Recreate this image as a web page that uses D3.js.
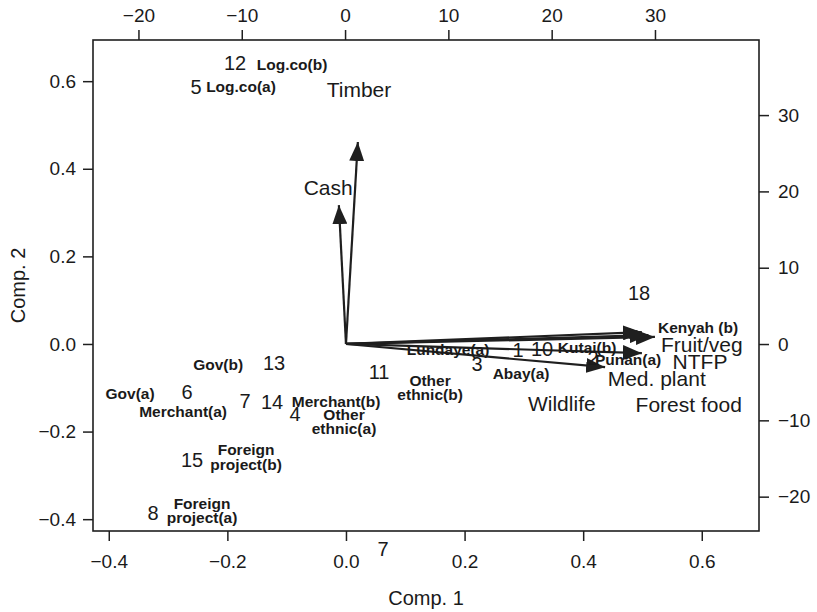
<!DOCTYPE html>
<html>
<head>
<meta charset="utf-8">
<script src="https://cdn.jsdelivr.net/npm/d3@7"></script>
<style>
  body { margin: 0; background: #fff; }
  svg text { font-family: "Liberation Sans", Arial, Helvetica, sans-serif; fill: #1a1a1a; }
</style>
</head>
<body>
<div id="vis"></div>
<script>
// observation scores (top / right axis units)
const obsIds = ["12", "5", "18", "1", "10", "2", "3", "11", "13", "6", "7", "14", "4", "15", "8", "7"];
const obsX = [-10.65, -14.42, 28.46, 16.75, 19.07, 24.0, 12.78, 3.29, -6.87, -15.3, -9.68, -7.07, -4.84, -14.81, -18.59, 3.68];
const obsY = [36.83, 33.68, 6.68, -0.79, -0.66, -1.83, -2.62, -3.67, -2.49, -6.29, -7.47, -7.6, -9.17, -15.2, -22.15, -26.87];

// group labels (same units as the scores)
const groupNames = ["Log.co(b)", "Log.co(a)", "Kenyah (b)", "Lundaye(a)", "Kutai(b)", "Punan(a)", "Abay(a)",
  "Other\nethnic(b)", "Gov(b)", "Gov(a)", "Merchant(a)", "Merchant(b)", "Other\nethnic(a)",
  "Foreign\nproject(b)", "Foreign\nproject(a)"];
const groupX = [-5.13, -10.07, 34.17, 9.97, 23.43, 27.4, 17.04, 8.23, -12.29, -20.81, -15.68, -0.87, -0.1, -9.58, -13.84];
const groupY = [36.7, 33.7, 2.23, -0.66, -0.39, -1.97, -3.8, -5.64, -2.62, -6.42, -8.78, -7.47, -10.1, -14.8, -21.76];

// variable loadings (bottom / left axis units)
const varNames = ["Timber", "Cash", "Fruit/veg", "Forest food", "Wildlife", "NTFP", "Med. plant"];
const varX = [0.020, -0.012, 0.521, 0.499, 0.510, 0.499, 0.437];
const varY = [0.461, 0.317, 0.016, 0.027, 0.020, -0.021, -0.053];
const varLabelX = [0.022, -0.030, 0.600, 0.578, 0.364, 0.597, 0.524];
const varLabelY = [0.582, 0.358, 0.0, -0.139, -0.135, -0.039, -0.078];

const bottomTicks = [-0.4, -0.2, 0.0, 0.2, 0.4, 0.6];
const leftTicks = [-0.4, -0.2, 0.0, 0.2, 0.4, 0.6];
const topTicks = [-20, -10, 0, 10, 20, 30];
const rightTicks = [-20, -10, 0, 10, 20, 30];

const width = 817, height = 612;
const box = { left: 93, right: 759, top: 40, bottom: 531 };
const ink = "#1f1f1f";

const svg = d3.select("#vis").append("svg")
  .attr("width", width)
  .attr("height", height);

const x = d3.scaleLinear().domain([-0.4266, 0.6965]).range([box.left, box.right]);
const y = d3.scaleLinear().domain([-0.427, 0.694]).range([box.bottom, box.top]);
const xs = d3.scaleLinear().domain([-24.4, 40.07]).range([box.left, box.right]);
const ys = d3.scaleLinear().domain([-24.5, 39.84]).range([box.bottom, box.top]);

// == axes ==
function styleAxis(g) {
  g.select(".domain").remove();
  g.selectAll(".tick line").attr("stroke", ink).attr("stroke-width", 1.5);
  g.selectAll(".tick text").style("font-size", "19px").attr("fill", ink);
}

svg.append("g")
  .attr("transform", `translate(0,${box.bottom})`)
  .call(d3.axisBottom(x).tickValues(bottomTicks).tickFormat(d3.format(".1f")).tickSize(10).tickPadding(14))
  .call(styleAxis);

svg.append("g")
  .attr("transform", `translate(${box.left},0)`)
  .call(d3.axisLeft(y).tickValues(leftTicks).tickFormat(d3.format(".1f")).tickSize(10).tickPadding(7))
  .call(styleAxis);

svg.append("g")
  .attr("transform", `translate(0,${box.top})`)
  .call(d3.axisTop(xs).tickValues(topTicks).tickSize(10).tickPadding(8))
  .call(styleAxis);

svg.append("g")
  .attr("transform", `translate(${box.right},0)`)
  .call(d3.axisRight(ys).tickValues(rightTicks).tickSize(10).tickPadding(9))
  .call(styleAxis);

svg.selectAll("g text").attr("font-family", null);

svg.append("rect")
  .attr("x", box.left)
  .attr("y", box.top)
  .attr("width", box.right - box.left)
  .attr("height", box.bottom - box.top)
  .attr("fill", "none")
  .attr("stroke", ink)
  .attr("stroke-width", 1.6);

svg.append("text")
  .attr("x", (box.left + box.right) / 2)
  .attr("y", 605)
  .attr("text-anchor", "middle")
  .style("font-size", "20px")
  .text("Comp. 1");

svg.append("text")
  .attr("transform", `translate(25,${(box.top + box.bottom) / 2}) rotate(-90)`)
  .attr("text-anchor", "middle")
  .style("font-size", "20px")
  .text("Comp. 2");

// == arrows ==
svg.append("defs").append("marker")
  .attr("id", "head")
  .attr("viewBox", "0 -7.5 19 15")
  .attr("refX", 19)
  .attr("refY", 0)
  .attr("markerWidth", 19)
  .attr("markerHeight", 15)
  .attr("markerUnits", "userSpaceOnUse")
  .attr("orient", "auto")
  .append("path")
  .attr("d", "M0,-7.5L19,0L0,7.5Z")
  .attr("fill", ink);

const arrows = varNames.map((name, i) => ({ name, tx: varX[i], ty: varY[i] }));

svg.append("g")
  .selectAll("line")
  .data(arrows)
  .enter()
  .append("line")
  .attr("x1", x(0))
  .attr("y1", y(0))
  .attr("x2", d => x(d.tx))
  .attr("y2", d => y(d.ty))
  .attr("stroke", ink)
  .attr("stroke-width", 2.2)
  .attr("marker-end", "url(#head)");

svg.append("g")
  .selectAll("text")
  .data(varNames)
  .enter()
  .append("text")
  .attr("x", (d, i) => x(varLabelX[i]))
  .attr("y", (d, i) => y(varLabelY[i]))
  .attr("dy", "0.36em")
  .attr("text-anchor", "middle")
  .style("font-size", "21px")
  .text(d => d);

// == observation numbers ==
svg.append("g")
  .selectAll("text")
  .data(obsIds)
  .enter()
  .append("text")
  .attr("x", (d, i) => xs(obsX[i]))
  .attr("y", (d, i) => ys(obsY[i]))
  .attr("dy", "0.36em")
  .attr("text-anchor", "middle")
  .style("font-size", "20px")
  .text(d => d);

// == group labels ==
const groups = svg.append("g")
  .selectAll("text")
  .data(groupNames)
  .enter()
  .append("text")
  .attr("x", (d, i) => xs(groupX[i]))
  .attr("y", (d, i) => ys(groupY[i]))
  .attr("text-anchor", "middle")
  .style("font-size", "15.5px")
  .style("font-weight", "bold");

groups.each(function(d, i) {
  const lines = d.split("\n");
  const t = d3.select(this);
  const cx = xs(groupX[i]);
  lines.forEach((line, j) => {
    t.append("tspan")
      .attr("x", cx)
      .attr("dy", j === 0 ? (0.36 - (lines.length - 1) * 0.46) + "em" : "0.92em")
      .text(line);
  });
});
</script>
</body>
</html>
